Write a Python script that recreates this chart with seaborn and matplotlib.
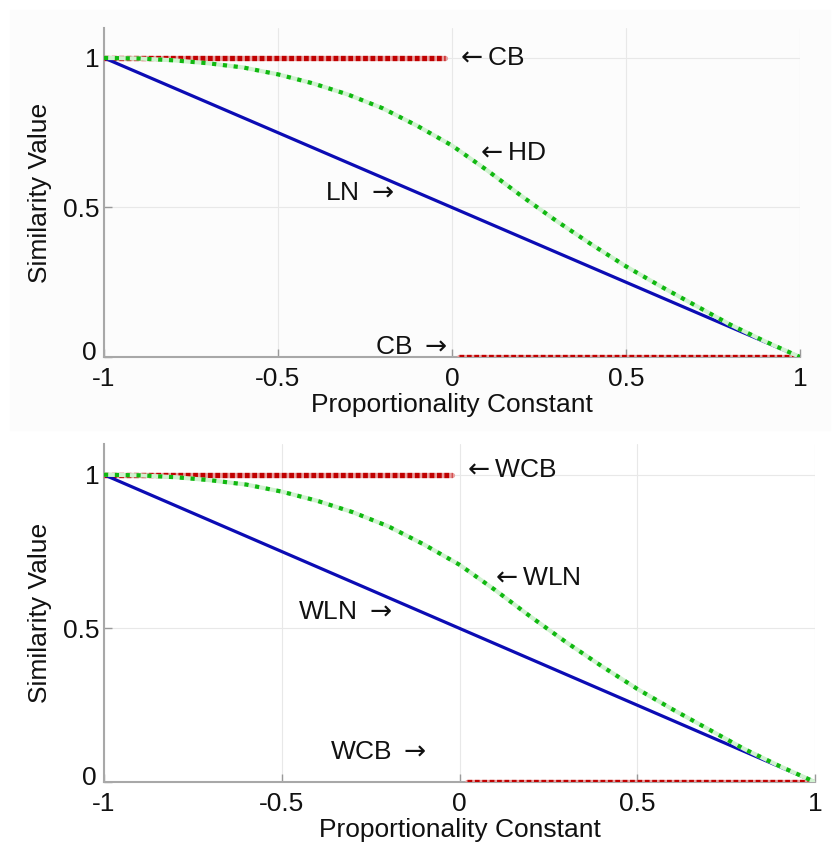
import seaborn as sns
import matplotlib.pyplot as plt
from matplotlib.patches import Rectangle
from matplotlib.transforms import ScaledTranslation

# values
prop_x = [-1.0, -0.9, -0.8, -0.7, -0.6, -0.5, -0.4, -0.3, -0.2, -0.1, 0.0,
          0.1, 0.2, 0.3, 0.4, 0.5, 0.6, 0.7, 0.8, 0.9, 1.0]
hd_y = [1.0, 0.998, 0.992, 0.982, 0.968, 0.945, 0.915, 0.878, 0.832, 0.773, 0.707,
        0.625, 0.538, 0.455, 0.377, 0.303, 0.236, 0.172, 0.108, 0.052, 0.0]
ln_x = [-1.0, 1.0]
ln_y = [1.0, 0.0]
cb_hi_x = [-1.0, -0.02]
cb_hi_y = [1.0, 1.0]
cb_lo_x = [0.02, 1.0]
cb_lo_y = [0.0, 0.0]

x_ticks = [-1, -0.5, 0, 0.5, 1]
x_ticklabels = ['-1', '-0.5', '0', '0.5', '1']
y_ticks = [0, 0.5, 1]
y_ticklabels = ['0', '0.5', '1']

L = r'$\leftarrow$'
R = r'$\rightarrow$'
top_labels = [(L + 'CB', 0.01, 1.0), (L + 'HD', 0.065, 0.683),
              ('LN ' + R, -0.365, 0.55), ('CB ' + R, -0.22, 0.033)]
bot_labels = [(L + 'WCB', 0.007, 1.016), (L + 'WLN', 0.086, 0.664),
              ('WLN ' + R, -0.454, 0.554), ('WCB ' + R, -0.364, 0.098)]

sns.set_theme(style="whitegrid")
plt.rcParams['font.family'] = ['Liberation Sans', 'DejaVu Sans']
plt.rcParams['axes.unicode_minus'] = False
plt.rcParams['mathtext.fontset'] = 'dejavusans'

fig = plt.figure(figsize=(8.36, 8.48), dpi=100)
fig.patches.append(Rectangle((10 / 836, 1 - 430 / 848), 820 / 836, 420 / 848,
                             transform=fig.transFigure, color='#fcfcfc', zorder=-5))
ax1 = fig.add_axes([104 / 836, 1 - 357 / 848, 696 / 836, 329 / 848])
ax2 = fig.add_axes([104 / 836, 1 - 782 / 848, 711 / 836, 338 / 848])

blue = '#0c0cb4'
green = '#10b810'
red = '#c00000'

for ax, labels in [(ax1, top_labels), (ax2, bot_labels)]:
    ax.set_facecolor('none')
    # CB step (red dotted)
    for xs, ys in [(cb_hi_x, cb_hi_y), (cb_lo_x, cb_lo_y)]:
        sns.lineplot(x=xs, y=ys, ax=ax, color='#e8a0a0', linewidth=3.8, zorder=3)
        sns.lineplot(x=xs, y=ys, ax=ax, color=red, linewidth=3.8,
                     linestyle=(0, (0.9, 0.5)), zorder=3)
    # LN straight line
    sns.lineplot(x=ln_x, y=ln_y, ax=ax, color=blue, linewidth=2.3, zorder=4)
    # HD curve (green dotted)
    sns.lineplot(x=prop_x, y=hd_y, ax=ax, color='#d0f2d0', linewidth=3.0, zorder=5)
    sns.lineplot(x=prop_x, y=hd_y, ax=ax, color=green, linewidth=3.0,
                 linestyle=(0, (1, 1.6)), zorder=5)

    for txt, tx, ty in labels:
        ax.text(tx, ty, txt, fontsize=19, va='center', ha='left', color='#111111',
                zorder=6)

    ax.set_xlim(-1, 1)
    ax.set_ylim(0, 1.1)
    ax.set_xticks(x_ticks)
    ax.set_xticklabels(x_ticklabels)
    ax.set_yticks(y_ticks)
    ax.set_yticklabels(y_ticklabels)
    ax.tick_params(axis='both', direction='in', length=6, width=1, color='#999999',
                   labelsize=19, labelcolor='#111111', bottom=True, left=True)
    ax.tick_params(axis='x', pad=7)
    ax.tick_params(axis='y', pad=3)
    # lift the "0" label like in the reference
    ax.get_yticklabels()[0].set_transform(
        ax.get_yticklabels()[0].get_transform()
        + ScaledTranslation(-2 / 72, 5 / 72, fig.dpi_scale_trans))
    ax.grid(True, color='#e8e8e8', linewidth=0.8)
    for s in ['top', 'right']:
        ax.spines[s].set_visible(False)
    for s in ['left', 'bottom']:
        ax.spines[s].set_color('#a8a8a8')
        ax.spines[s].set_linewidth(1.5)
    ax.set_xlabel('Proportionality Constant', fontsize=19, color='#111111', labelpad=2)
    ax.set_ylabel('Similarity Value', fontsize=19, color='#111111', labelpad=8)

fig.savefig('out.png', dpi=100)
